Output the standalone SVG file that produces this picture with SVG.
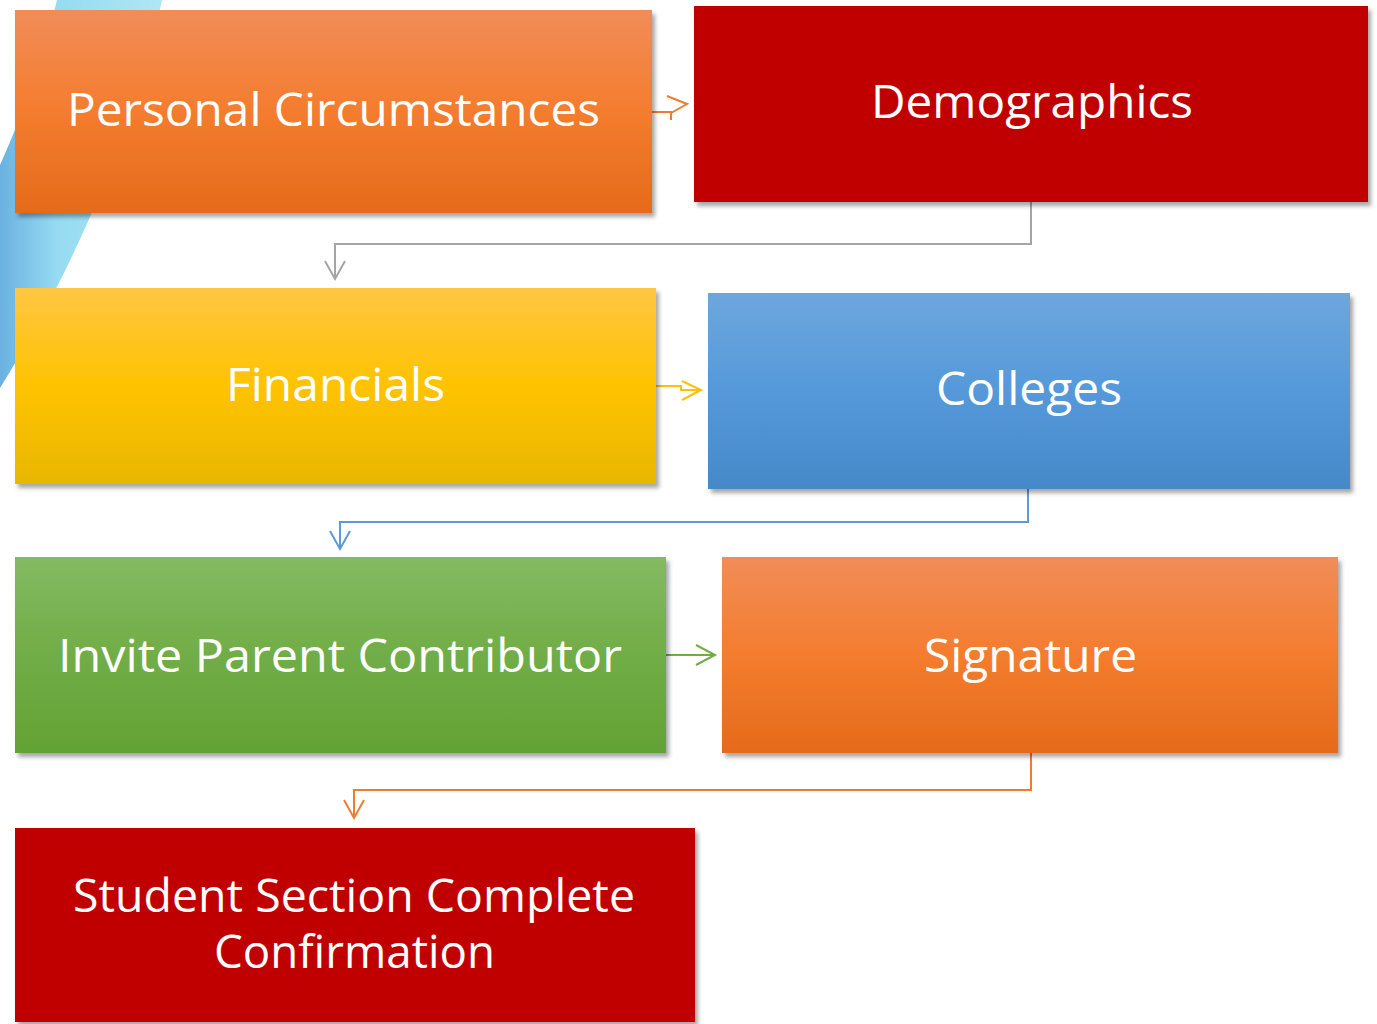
<svg xmlns="http://www.w3.org/2000/svg" width="1377" height="1024" viewBox="0 0 1377 1024">
<defs>
<linearGradient id="gOrange" x1="0" y1="0" x2="0" y2="1">
<stop offset="0" stop-color="#F18D58"/><stop offset="0.5" stop-color="#F47C2E"/><stop offset="1" stop-color="#E56B1A"/>
</linearGradient>
<linearGradient id="gYellow" x1="0" y1="0" x2="0" y2="1">
<stop offset="0" stop-color="#FFC644"/><stop offset="0.5" stop-color="#FFC300"/><stop offset="1" stop-color="#E8B700"/>
</linearGradient>
<linearGradient id="gBlue" x1="0" y1="0" x2="0" y2="1">
<stop offset="0" stop-color="#6DA7DD"/><stop offset="0.5" stop-color="#5599DA"/><stop offset="1" stop-color="#4589C9"/>
</linearGradient>
<linearGradient id="gGreen" x1="0" y1="0" x2="0" y2="1">
<stop offset="0" stop-color="#84BA62"/><stop offset="0.5" stop-color="#71AD47"/><stop offset="1" stop-color="#63A234"/>
</linearGradient>
<linearGradient id="gBand" x1="0" y1="0" x2="1" y2="0">
<stop offset="0" stop-color="#5AA8DE"/><stop offset="0.35" stop-color="#8AD7F0"/><stop offset="1" stop-color="#A6E4F4"/>
</linearGradient>
<filter id="shadow" x="-5%" y="-10%" width="115%" height="130%">
<feDropShadow dx="3" dy="4" stdDeviation="2" flood-color="#000" flood-opacity="0.35"/>
</filter>
<style>
.box{filter:url(#shadow);}
.lbl{font-family:"Open Sans","Noto Sans",sans-serif;font-size:46px;fill:#fff;text-anchor:middle;}
.con{fill:none;stroke-width:2;stroke-linejoin:miter;}
</style>
</defs>
<rect width="1377" height="1024" fill="#fff"/>
<path d="M57,0 L162,0 C140,110 80,260 0,388 L0,165 C25,110 45,50 57,0 Z" fill="url(#gBand)" opacity="0.9"/>

<g id="connectors">
<path class="con" stroke="#ED7D31" d="M652,112 H672 M667,96 L687,104 L671,113 L671,120"/>
<path class="con" stroke="#A5A5A5" d="M1031,202 V244 H335 V279 M325,261 L335,279 L345,261"/>
<path class="con" stroke="#FFC000" d="M656,386 H681 V390 H700 M682,381 L701,390 L682,400"/>
<path class="con" stroke="#5B9BD5" d="M1028,489 V522 H340 V549 M330,531 L340,549 L350,531"/>
<path class="con" stroke="#70AD47" d="M666,655 H714 M696,645 L715,655 L696,665"/>
<path class="con" stroke="#ED7D31" d="M1031,753 V790 H354 V818 M344,800 L354,818 L364,800"/>
</g>

<g id="node-personal">
<rect class="box" x="15" y="10" width="637" height="203" fill="url(#gOrange)"/>
<text class="lbl" x="333.5" y="126" textLength="533" lengthAdjust="spacingAndGlyphs">Personal Circumstances</text>
</g>
<g id="node-demographics">
<rect class="box" x="694" y="6" width="674" height="196" fill="#C00000"/>
<text class="lbl" x="1032" y="118" textLength="322" lengthAdjust="spacingAndGlyphs">Demographics</text>
</g>
<g id="node-financials">
<rect class="box" x="15" y="288" width="641" height="196" fill="url(#gYellow)"/>
<text class="lbl" x="335.5" y="401" textLength="219" lengthAdjust="spacingAndGlyphs">Financials</text>
</g>
<g id="node-colleges">
<rect class="box" x="708" y="293" width="642" height="196" fill="url(#gBlue)"/>
<text class="lbl" x="1029" y="405" textLength="186" lengthAdjust="spacingAndGlyphs">Colleges</text>
</g>
<g id="node-invite">
<rect class="box" x="15" y="557" width="651" height="196" fill="url(#gGreen)"/>
<text class="lbl" x="340" y="672" textLength="564" lengthAdjust="spacingAndGlyphs">Invite Parent Contributor</text>
</g>
<g id="node-signature">
<rect class="box" x="722" y="557" width="616" height="196" fill="url(#gOrange)"/>
<text class="lbl" x="1030.5" y="672" textLength="213" lengthAdjust="spacingAndGlyphs">Signature</text>
</g>
<g id="node-confirmation">
<rect class="box" x="15" y="828" width="680" height="194" fill="#C00000"/>
<text class="lbl" x="354" y="912" textLength="562" lengthAdjust="spacingAndGlyphs">Student Section Complete</text>
<text class="lbl" x="354.5" y="968" textLength="281" lengthAdjust="spacingAndGlyphs">Confirmation</text>
</g>
</svg>
